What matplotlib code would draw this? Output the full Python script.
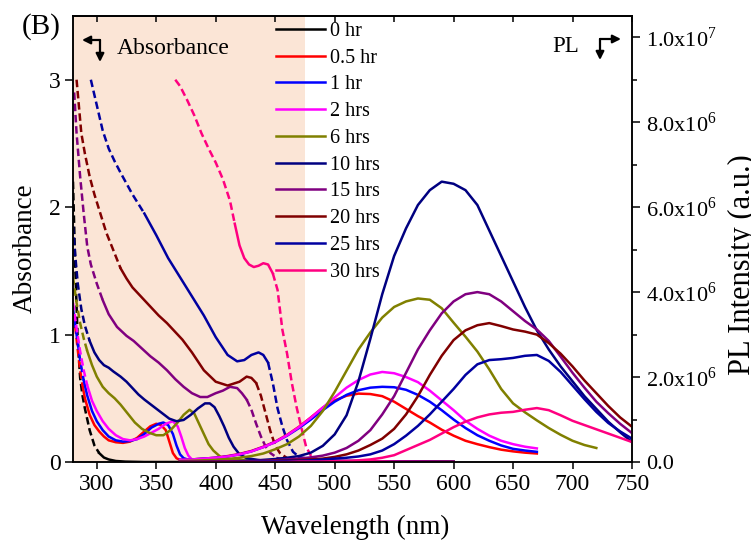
import numpy as np
import matplotlib
matplotlib.use("Agg")
import matplotlib.pyplot as plt
from matplotlib.ticker import FixedLocator, FixedFormatter

plt.rcParams['font.family'] = 'Liberation Serif'
plt.rcParams['mathtext.fontset'] = 'custom'
plt.rcParams['mathtext.rm'] = 'Liberation Serif'

labels = ['0 hr', '0.5 hr', '1 hr', '2 hrs', '6 hrs', '10 hrs', '15 hrs', '20 hrs', '25 hrs', '30 hrs']
colors = ['#000000', '#FF0000', '#0000FF', '#FF00FF', '#808000', '#000080', '#800080', '#800000', '#0000A0', '#FF0080']

# absorbance spectra (wavelength nm, absorbance)
abs_wl_0 = [280, 282, 284, 286, 288, 290, 294, 298, 302, 306, 310, 316, 324, 340, 400, 500, 600]
abs_0 = [2.2, 1.5, 0.95, 0.66, 0.52, 0.42, 0.25, 0.13, 0.07, 0.035, 0.02, 0.008, 0.003, 0, 0, 0, 0]

abs_wl_05 = [280, 282, 284, 286, 288, 290, 294, 298, 302, 306, 310, 316, 322, 328, 334, 340, 345, 350,
             354, 358, 361, 364, 367, 370, 380, 400, 450, 500, 600]
abs_05 = [1.15, 1.05, 0.88, 0.72, 0.6, 0.5, 0.37, 0.29, 0.24, 0.2, 0.17, 0.155, 0.15, 0.16, 0.19, 0.24, 0.28, 0.3,
          0.29, 0.25, 0.16, 0.07, 0.03, 0.015, 0.01, 0.005, 0.003, 0.002, 0]

abs_wl_1 = [280, 283, 286, 289, 292, 296, 300, 305, 310, 316, 322, 328, 334, 340, 346, 352, 356, 360,
            364, 367, 370, 373, 378, 390, 450, 500, 600]
abs_1 = [1.2, 1.0, 0.8, 0.64, 0.52, 0.4, 0.32, 0.25, 0.2, 0.17, 0.16, 0.165, 0.18, 0.22, 0.27, 0.3, 0.31, 0.29,
         0.22, 0.13, 0.06, 0.03, 0.015, 0.01, 0.005, 0.002, 0]

abs_wl_2 = [280, 283, 286, 289, 292, 296, 300, 305, 310, 316, 322, 328, 334, 340, 346, 352, 358, 364,
            368, 371, 374, 377, 380, 390, 450, 500, 600]
abs_2 = [1.25, 1.05, 0.87, 0.72, 0.6, 0.48, 0.4, 0.32, 0.26, 0.21, 0.18, 0.17, 0.18, 0.2, 0.23, 0.26, 0.3, 0.32,
         0.28, 0.2, 0.11, 0.05, 0.02, 0.01, 0.005, 0.002, 0]

abs_wl_6 = [280, 283, 286, 289, 292, 296, 300, 305, 310, 315, 320, 326, 332, 338, 344, 350, 356, 362,
            368, 373, 378, 382, 386, 390, 394, 398, 404, 412, 430, 500, 600]
abs_6 = [1.45, 1.25, 1.09, 0.97, 0.87, 0.76, 0.67, 0.59, 0.54, 0.5, 0.45, 0.38, 0.31, 0.26, 0.23, 0.21, 0.21, 0.25,
         0.31, 0.37, 0.41, 0.38, 0.3, 0.22, 0.14, 0.09, 0.04, 0.02, 0.01, 0.003, 0]

abs_wl_10 = [280, 282, 284, 287, 290, 294, 298, 302, 306, 310, 314, 320, 325, 330, 335, 340, 347, 354,
             361, 367, 373, 379, 385, 391, 395, 399, 403, 407, 411, 415, 420, 426, 440, 500, 600]
abs_10 = [1.85, 1.61, 1.4, 1.2, 1.07, 0.95, 0.86, 0.8, 0.76, 0.74, 0.71, 0.67, 0.63, 0.58, 0.53, 0.49, 0.44, 0.39,
          0.34, 0.32, 0.33, 0.37, 0.42, 0.46, 0.46, 0.43, 0.36, 0.28, 0.19, 0.12, 0.06, 0.03, 0.01, 0.003, 0]

abs_wl_15 = [281, 283, 286, 289, 292, 295, 300, 305, 310, 317, 325, 331, 338, 345, 352, 359, 366, 373,
             380, 387, 393, 400, 406, 412, 418, 422, 426, 430, 434, 438, 442, 446, 452, 460, 500, 600]
abs_15 = [2.9, 2.58, 2.24, 1.95, 1.69, 1.55, 1.4, 1.27, 1.16, 1.06, 0.99, 0.95, 0.89, 0.83, 0.78, 0.72, 0.65, 0.59,
          0.54, 0.51, 0.51, 0.54, 0.56, 0.59, 0.58, 0.54, 0.49, 0.41, 0.3, 0.2, 0.12, 0.07, 0.03, 0.015, 0.005, 0]

abs_wl_20 = [283, 287, 290, 294, 298, 303, 308, 314, 320, 325, 330, 338, 345, 352, 359, 366, 372, 380,
             390, 400, 410, 420, 426, 430, 434, 438, 442, 446, 450, 454, 460, 470, 500, 600]
abs_20 = [3.0, 2.58, 2.42, 2.24, 2.1, 1.95, 1.8, 1.66, 1.52, 1.44, 1.37, 1.29, 1.22, 1.15, 1.09, 1.02, 0.96, 0.86,
          0.72, 0.63, 0.6, 0.63, 0.67, 0.66, 0.62, 0.52, 0.38, 0.24, 0.13, 0.07, 0.03, 0.015, 0.005, 0]

abs_wl_25 = [295, 300, 305, 310, 315, 320, 330, 340, 350, 360, 370, 380, 390, 400, 410, 418, 424, 430,
             436, 440, 444, 448, 452, 456, 460, 465, 470, 480, 500, 600]
abs_25 = [3.0, 2.8, 2.6, 2.46, 2.36, 2.27, 2.1, 1.95, 1.78, 1.6, 1.45, 1.3, 1.15, 0.98, 0.84, 0.79, 0.8, 0.84,
          0.86, 0.84, 0.78, 0.62, 0.42, 0.28, 0.17, 0.08, 0.04, 0.02, 0.01, 0]

abs_wl_30 = [366, 370, 376, 382, 388, 394, 400, 406, 412, 416, 420, 424, 428, 432, 436, 440, 444, 448,
             452, 456, 460, 464, 468, 472, 476, 480, 486, 500, 550, 600]
abs_30 = [3.0, 2.95, 2.84, 2.72, 2.58, 2.46, 2.35, 2.22, 2.05, 1.87, 1.7, 1.6, 1.55, 1.53, 1.54, 1.56, 1.55, 1.48,
          1.35, 1.04, 0.85, 0.62, 0.43, 0.27, 0.12, 0.05, 0.02, 0.01, 0.003, 0]

abs_wls = [abs_wl_0, abs_wl_05, abs_wl_1, abs_wl_2, abs_wl_6, abs_wl_10, abs_wl_15, abs_wl_20, abs_wl_25, abs_wl_30]
abs_vals = [abs_0, abs_05, abs_1, abs_2, abs_6, abs_10, abs_15, abs_20, abs_25, abs_30]
# wavelengths where the trace switches between dashed (saturated) and solid
abs_breaks = [[302], [288], [289], [292], [292], [294], [305, 426, 452], [320, 434, 460], [340, 444, 470], [416, 448, 486]]

# PL spectra, every 10 nm from 370 nm, in units of 1e6 counts
pl_05 = [0.05, 0.06, 0.08, 0.1, 0.14, 0.19, 0.26, 0.36, 0.48, 0.64, 0.83, 1.05, 1.28, 1.45, 1.56, 1.61, 1.6, 1.55,
         1.42, 1.25, 1.08, 0.93, 0.76, 0.62, 0.5, 0.42, 0.35, 0.29, 0.25, 0.22, 0.2]
pl_1 = [0.05, 0.06, 0.08, 0.1, 0.13, 0.18, 0.25, 0.35, 0.47, 0.62, 0.8, 1.0, 1.22, 1.42, 1.58, 1.69, 1.75, 1.77,
        1.76, 1.7, 1.58, 1.42, 1.22, 1.0, 0.8, 0.63, 0.5, 0.39, 0.31, 0.27, 0.24]
pl_2 = [0.05, 0.06, 0.08, 0.1, 0.13, 0.18, 0.25, 0.35, 0.47, 0.63, 0.82, 1.04, 1.28, 1.52, 1.75, 1.93, 2.06, 2.12,
        2.09, 2.0, 1.88, 1.68, 1.45, 1.22, 0.97, 0.78, 0.62, 0.5, 0.42, 0.36, 0.32]
pl_6 = [0.02, 0.03, 0.04, 0.05, 0.07, 0.1, 0.14, 0.2, 0.3, 0.42, 0.6, 0.85, 1.2, 1.65, 2.15, 2.65, 3.05, 3.4,
        3.65, 3.78, 3.85, 3.82, 3.62, 3.28, 2.95, 2.6, 2.18, 1.72, 1.38, 1.17, 0.98, 0.8, 0.64, 0.5, 0.4, 0.33]
pl_10 = [0, 0, 0, 0.01, 0.01, 0.02, 0.03, 0.05, 0.07, 0.1, 0.14, 0.22, 0.38, 0.65, 1.1, 1.9, 2.9, 3.95,
         4.85, 5.5, 6.05, 6.4, 6.6, 6.55, 6.4, 6.05, 5.45, 4.85, 4.25, 3.65, 3.1, 2.65, 2.25, 1.9, 1.55, 1.25, 0.95, 0.7, 0.47]
pl_15 = [0, 0, 0, 0, 0.01, 0.01, 0.02, 0.03, 0.04, 0.06, 0.08, 0.11, 0.15, 0.22, 0.33, 0.5, 0.75, 1.12,
         1.55, 2.1, 2.65, 3.1, 3.5, 3.78, 3.95, 4.0, 3.95, 3.78, 3.55, 3.32, 3.12, 2.85, 2.48, 2.1, 1.75, 1.42, 1.15, 0.9, 0.68]
pl_20 = [0, 0, 0, 0, 0, 0.01, 0.01, 0.02, 0.03, 0.04, 0.05, 0.06, 0.08, 0.12, 0.18, 0.27, 0.4, 0.55,
         0.78, 1.12, 1.55, 2.05, 2.5, 2.87, 3.1, 3.22, 3.27, 3.2, 3.12, 3.07, 3.0, 2.8, 2.55, 2.25, 1.92, 1.62, 1.32, 1.05, 0.83]
pl_25 = [0, 0, 0, 0, 0, 0.01, 0.01, 0.02, 0.02, 0.03, 0.03, 0.04, 0.06, 0.08, 0.1, 0.13, 0.18, 0.27,
         0.42, 0.62, 0.85, 1.12, 1.42, 1.72, 2.05, 2.3, 2.4, 2.42, 2.45, 2.5, 2.52, 2.38, 2.12, 1.8, 1.48, 1.18, 0.92, 0.72, 0.55]
pl_30 = [0, 0, 0, 0, 0, 0, 0, 0, 0, 0, 0.01, 0.01, 0.01, 0.01, 0.02, 0.04, 0.06, 0.1,
         0.16, 0.28, 0.4, 0.52, 0.67, 0.82, 0.95, 1.05, 1.12, 1.16, 1.18, 1.23, 1.27, 1.22, 1.1, 0.97, 0.87, 0.77, 0.67, 0.57, 0.47]

pl_sets = [(1, pl_05), (2, pl_1), (3, pl_2), (4, pl_6), (5, pl_10), (6, pl_15), (7, pl_20), (8, pl_25), (9, pl_30)]

pl_ticks = [0, 2e6, 4e6, 6e6, 8e6, 1e7]
pl_ticklabels = ['0.0', r'2.0x10$^{\mathregular{6}}$', r'4.0x10$^{\mathregular{6}}$',
                 r'6.0x10$^{\mathregular{6}}$', r'8.0x10$^{\mathregular{6}}$', r'1.0x10$^{\mathregular{7}}$']

W, H = 751, 544
LW = 1.8


def fx(px):
    return px / W


def fy(py):
    return 1 - py / H


def draw_abs(ax, wl, a, breaks, color, label):
    wl = np.asarray(wl, dtype=float)
    a = np.asarray(a, dtype=float)
    edges = [wl[0]] + breaks + [wl[-1]]
    for i in range(len(edges) - 1):
        m = (wl >= edges[i]) & (wl <= edges[i + 1])
        if i % 2 == 0:
            ax.plot(wl[m], a[m], color=color, lw=LW, ls=(0, (3, 1.5)))
        else:
            ax.plot(wl[m], a[m], color=color, lw=LW, ls='-', label=label if i == 1 else None)


fig = plt.figure(figsize=(W / 100, H / 100), dpi=100)
ax = fig.add_axes([fx(73), fy(462), fx(632 - 73), (462 - 16) / H])
ax2 = ax.twinx()

ax.axvspan(280, 475, color='#FBE5D6', lw=0, zorder=0)

for wl, a, br, c, lab in zip(abs_wls, abs_vals, abs_breaks, colors, labels):
    draw_abs(ax, wl, a, br, c, lab)

pl_wl = np.arange(370, 751, 10)
for idx, vals in pl_sets:
    v = np.asarray(vals) * 1e6
    ax2.plot(pl_wl[:len(v)], v, color=colors[idx], lw=LW)

ax.set_xlim(280, 750)
ax.set_ylim(0, 3.5)
ax2.set_ylim(0, 1.05e7)

ax.set_xticks(range(300, 751, 50))
ax.set_yticks([0, 1, 2, 3])
ax.tick_params(axis='x', direction='out', length=5, width=1.1, labelsize=17, pad=4)
ax.tick_params(axis='y', direction='out', length=6, width=1.1, labelsize=17, pad=3)

top = ax.secondary_xaxis('top')
top.set_xticks(range(300, 751, 50))
top.tick_params(direction='in', length=4, width=1.1, labeltop=False)

ax2.yaxis.set_major_locator(FixedLocator(pl_ticks))
ax2.yaxis.set_major_formatter(FixedFormatter(pl_ticklabels))
ax2.yaxis.set_minor_locator(FixedLocator([1e6, 3e6, 5e6, 7e6, 9e6]))
ax2.tick_params(axis='y', which='major', direction='out', length=6, width=1.1, labelsize=16, pad=4)
ax2.tick_params(axis='y', which='minor', direction='out', length=3.5, width=1.1)

for a_ in (ax, ax2):
    for s in a_.spines.values():
        s.set_linewidth(1.1)
top.spines['top'].set_linewidth(1.1)

leg = ax.legend(loc='upper left', bbox_to_anchor=(0.363, 0.987), frameon=False, fontsize=14.5,
                handlelength=2.44, handletextpad=0.25, labelspacing=0.38, borderpad=0, borderaxespad=0)

fig.text(fx(13), fy(248), 'Absorbance', rotation=90, ha='left', va='center', fontsize=19.5)
fig.text(fx(355), fy(527), 'Wavelength (nm)', ha='center', va='center', fontsize=19.5)
fig.text(fx(728), fy(265), 'PL Intensity (a.u.)', rotation=90, ha='left', va='center', fontsize=22)
fig.text(fx(22), fy(27), '(B)', ha='left', va='center', fontsize=21)

fig.text(fx(117), fy(49), 'Absorbance', ha='left', va='center', fontsize=17)
fig.text(fx(552), fy(47), 'PL', ha='left', va='center', fontsize=16.5)

arrow = dict(arrowstyle='-|>', lw=1.6, color='k', mutation_scale=12, shrinkA=0, shrinkB=0)
for (x0, y0), (x1, y1) in [((100, 40), (82, 40)), ((100, 40), (100, 62)),
                           ((600, 39), (621, 39)), ((600, 39), (600, 60))]:
    fig.add_artist(matplotlib.patches.FancyArrowPatch((fx(x0), fy(y0)), (fx(x1), fy(y1)),
                                                      transform=fig.transFigure, **arrow))

fig.savefig('out.png', dpi=100)
